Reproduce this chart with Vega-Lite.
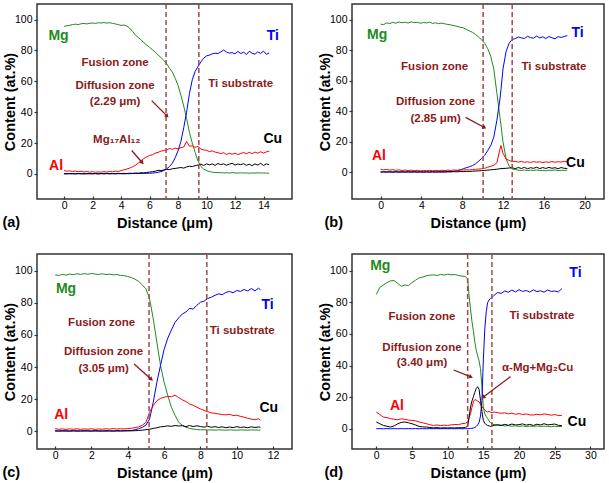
{
"$schema":"https://vega.github.io/schema/vega-lite/v6.json",
"padding":{"left":1,"top":2,"right":1,"bottom":1},
"config":{
 "font":"Liberation Sans",
 "view":{"stroke":"#333","strokeWidth":1.5},
 "axis":{"grid":false,"domain":false,"labelOverlap":false,"labelFont":"Liberation Sans","labelFontSize":10.5,"labelColor":"#000","titleFont":"Liberation Sans","titleFontSize":14.5,"titleFontWeight":"bold","titleColor":"#000","tickColor":"#333","tickWidth":1.2},
 "axisX":{"tickSize":-3,"labelPadding":4,"titlePadding":6},
 "axisY":{"tickSize":3,"labelPadding":2,"titlePadding":-3},
 "title":{"font":"Liberation Sans","fontSize":14.5,"fontWeight":"bold","color":"#000","orient":"bottom","anchor":"start","frame":"bounds","offset":0,"dy":-18}
},
"columns":2,
"spacing":{"row":55,"column":60},
"bounds":"flush",
"datasets":{
"a":[
{"x":0,"Mg":95.6,"Ti":0.1,"Al":2.2,"Cu":0.2},{"x":0.2,"Mg":96.0,"Ti":0.2,"Al":1.8,"Cu":0.1},{"x":0.4,"Mg":96.3,"Ti":0.1,"Al":2.0,"Cu":0.3},{"x":0.6,"Mg":96.8,"Ti":0.2,"Al":1.6,"Cu":0.2},{"x":0.8,"Mg":97.0,"Ti":0.1,"Al":1.9,"Cu":0.1},{"x":1.0,"Mg":96.8,"Ti":0.2,"Al":1.5,"Cu":0.3},{"x":1.2,"Mg":97.3,"Ti":0.1,"Al":1.8,"Cu":0.2},{"x":1.4,"Mg":97.5,"Ti":0.2,"Al":1.3,"Cu":0.1},{"x":1.6,"Mg":97.2,"Ti":0.1,"Al":1.6,"Cu":0.3},{"x":1.8,"Mg":97.6,"Ti":0.2,"Al":1.2,"Cu":0.2},{"x":2.0,"Mg":97.8,"Ti":0.1,"Al":1.5,"Cu":0.2},{"x":2.2,"Mg":97.5,"Ti":0.2,"Al":1.1,"Cu":0.3},{"x":2.4,"Mg":98.0,"Ti":0.1,"Al":1.4,"Cu":0.1},{"x":2.6,"Mg":97.8,"Ti":0.2,"Al":1.2,"Cu":0.3},{"x":2.8,"Mg":98.1,"Ti":0.1,"Al":1.5,"Cu":0.2},{"x":3.0,"Mg":97.7,"Ti":0.2,"Al":1.3,"Cu":0.4},{"x":3.2,"Mg":98.0,"Ti":0.1,"Al":1.6,"Cu":0.2},{"x":3.4,"Mg":97.6,"Ti":0.2,"Al":1.4,"Cu":0.3},{"x":3.6,"Mg":97.2,"Ti":0.1,"Al":1.8,"Cu":0.2},{"x":3.8,"Mg":96.8,"Ti":0.2,"Al":1.6,"Cu":0.4},{"x":4.0,"Mg":96.2,"Ti":0.2,"Al":2.2,"Cu":0.3},{"x":4.2,"Mg":96.5,"Ti":0.1,"Al":2.6,"Cu":0.4},{"x":4.4,"Mg":95.8,"Ti":0.2,"Al":3.2,"Cu":0.3},{"x":4.6,"Mg":94.5,"Ti":0.2,"Al":3.8,"Cu":0.5},{"x":4.8,"Mg":92.5,"Ti":0.3,"Al":4.6,"Cu":0.4},{"x":5.0,"Mg":90.0,"Ti":0.3,"Al":5.6,"Cu":0.6},{"x":5.2,"Mg":88.5,"Ti":0.3,"Al":7.0,"Cu":0.5},{"x":5.4,"Mg":87.0,"Ti":0.4,"Al":8.6,"Cu":0.8},{"x":5.6,"Mg":85.0,"Ti":0.4,"Al":10.0,"Cu":0.7},{"x":5.8,"Mg":83.5,"Ti":0.4,"Al":11.0,"Cu":1.0},{"x":6.0,"Mg":82.0,"Ti":0.5,"Al":12.0,"Cu":1.2},{"x":6.2,"Mg":80.5,"Ti":0.6,"Al":12.4,"Cu":1.5},{"x":6.4,"Mg":79.0,"Ti":0.8,"Al":13.5,"Cu":1.8},{"x":6.6,"Mg":77.0,"Ti":1.1,"Al":14.0,"Cu":2.4},{"x":6.8,"Mg":75.5,"Ti":1.5,"Al":14.8,"Cu":2.2},{"x":7.0,"Mg":73.5,"Ti":2.2,"Al":15.2,"Cu":2.6},{"x":7.2,"Mg":71.5,"Ti":3.3,"Al":15.6,"Cu":3.0},{"x":7.4,"Mg":68.5,"Ti":4.8,"Al":16.5,"Cu":2.8},{"x":7.6,"Mg":66.0,"Ti":7.0,"Al":16.0,"Cu":3.4},{"x":7.8,"Mg":62.0,"Ti":10.5,"Al":16.8,"Cu":3.6},{"x":8.0,"Mg":57.5,"Ti":15.0,"Al":16.2,"Cu":3.9},{"x":8.2,"Mg":51.0,"Ti":21.0,"Al":17.0,"Cu":4.2},{"x":8.4,"Mg":44.0,"Ti":30.0,"Al":17.5,"Cu":3.8},{"x":8.6,"Mg":36.0,"Ti":40.0,"Al":21.0,"Cu":4.6},{"x":8.8,"Mg":27.0,"Ti":52.0,"Al":18.0,"Cu":5.0},{"x":9.0,"Mg":20.0,"Ti":61.0,"Al":18.2,"Cu":4.8},{"x":9.2,"Mg":14.0,"Ti":66.5,"Al":17.3,"Cu":5.4},{"x":9.4,"Mg":8.5,"Ti":69.5,"Al":17.8,"Cu":5.8},{"x":9.6,"Mg":5.0,"Ti":72.5,"Al":16.2,"Cu":6.4},{"x":9.8,"Mg":3.2,"Ti":75.0,"Al":15.6,"Cu":5.5},{"x":10.0,"Mg":2.2,"Ti":76.5,"Al":15.3,"Cu":6.6},{"x":10.2,"Mg":1.6,"Ti":77.0,"Al":14.5,"Cu":5.9},{"x":10.4,"Mg":1.2,"Ti":77.8,"Al":15.0,"Cu":6.5},{"x":10.6,"Mg":1.0,"Ti":78.2,"Al":14.2,"Cu":5.6},{"x":10.8,"Mg":0.8,"Ti":78.0,"Al":13.8,"Cu":6.8},{"x":11.0,"Mg":0.9,"Ti":79.0,"Al":13.2,"Cu":6.0},{"x":11.2,"Mg":0.7,"Ti":80.3,"Al":13.8,"Cu":6.6},{"x":11.4,"Mg":0.8,"Ti":79.0,"Al":12.6,"Cu":5.7},{"x":11.6,"Mg":0.6,"Ti":78.3,"Al":13.4,"Cu":6.4},{"x":11.8,"Mg":0.9,"Ti":78.6,"Al":12.8,"Cu":6.9},{"x":12.0,"Mg":0.7,"Ti":77.8,"Al":13.5,"Cu":5.8},{"x":12.2,"Mg":0.6,"Ti":79.4,"Al":12.6,"Cu":6.5},{"x":12.4,"Mg":0.8,"Ti":78.0,"Al":13.3,"Cu":6.0},{"x":12.6,"Mg":0.6,"Ti":78.9,"Al":13.9,"Cu":6.7},{"x":12.8,"Mg":0.7,"Ti":77.4,"Al":13.1,"Cu":5.6},{"x":13.0,"Mg":0.5,"Ti":79.5,"Al":14.0,"Cu":6.3},{"x":13.2,"Mg":0.7,"Ti":78.2,"Al":13.2,"Cu":5.4},{"x":13.4,"Mg":0.6,"Ti":77.6,"Al":14.2,"Cu":6.5},{"x":13.6,"Mg":0.8,"Ti":79.1,"Al":13.5,"Cu":5.8},{"x":13.8,"Mg":0.6,"Ti":78.1,"Al":14.4,"Cu":6.9},{"x":14.0,"Mg":0.7,"Ti":79.6,"Al":13.6,"Cu":5.5},{"x":14.2,"Mg":0.5,"Ti":77.5,"Al":14.3,"Cu":6.6},{"x":14.4,"Mg":0.6,"Ti":78.4,"Al":14.8,"Cu":6.0}
],
"b":[
{"x":0,"Mg":97.0,"Ti":0.1,"Al":2.0,"Cu":0.2},{"x":0.3,"Mg":96.7,"Ti":0.2,"Al":1.6,"Cu":0.3},{"x":0.6,"Mg":97.8,"Ti":0.1,"Al":1.9,"Cu":0.2},{"x":0.9,"Mg":97.4,"Ti":0.2,"Al":1.4,"Cu":0.3},{"x":1.2,"Mg":98.2,"Ti":0.1,"Al":1.7,"Cu":0.2},{"x":1.5,"Mg":97.6,"Ti":0.2,"Al":1.3,"Cu":0.4},{"x":1.8,"Mg":98.4,"Ti":0.1,"Al":1.6,"Cu":0.2},{"x":2.1,"Mg":97.9,"Ti":0.2,"Al":1.2,"Cu":0.3},{"x":2.4,"Mg":98.3,"Ti":0.1,"Al":1.5,"Cu":0.2},{"x":2.7,"Mg":97.7,"Ti":0.2,"Al":1.1,"Cu":0.3},{"x":3.0,"Mg":98.5,"Ti":0.1,"Al":1.4,"Cu":0.2},{"x":3.3,"Mg":98.0,"Ti":0.2,"Al":1.0,"Cu":0.4},{"x":3.6,"Mg":98.2,"Ti":0.1,"Al":1.3,"Cu":0.2},{"x":3.9,"Mg":97.6,"Ti":0.2,"Al":0.9,"Cu":0.3},{"x":4.2,"Mg":98.1,"Ti":0.1,"Al":1.2,"Cu":0.2},{"x":4.5,"Mg":97.8,"Ti":0.2,"Al":1.0,"Cu":0.3},{"x":4.8,"Mg":98.3,"Ti":0.1,"Al":1.3,"Cu":0.2},{"x":5.1,"Mg":97.5,"Ti":0.2,"Al":0.9,"Cu":0.4},{"x":5.4,"Mg":97.9,"Ti":0.1,"Al":1.2,"Cu":0.2},{"x":5.7,"Mg":97.3,"Ti":0.2,"Al":1.0,"Cu":0.3},{"x":6.0,"Mg":97.7,"Ti":0.2,"Al":1.3,"Cu":0.3},{"x":6.3,"Mg":97.2,"Ti":0.3,"Al":1.1,"Cu":0.2},{"x":6.6,"Mg":96.8,"Ti":0.3,"Al":1.4,"Cu":0.4},{"x":6.9,"Mg":96.5,"Ti":0.4,"Al":1.2,"Cu":0.3},{"x":7.2,"Mg":96.0,"Ti":0.6,"Al":1.5,"Cu":0.4},{"x":7.5,"Mg":95.6,"Ti":1.0,"Al":1.3,"Cu":0.3},{"x":7.8,"Mg":95.0,"Ti":1.5,"Al":1.6,"Cu":0.5},{"x":8.1,"Mg":94.6,"Ti":2.3,"Al":1.4,"Cu":0.4},{"x":8.4,"Mg":93.6,"Ti":3.0,"Al":1.7,"Cu":0.6},{"x":8.7,"Mg":92.6,"Ti":3.6,"Al":1.5,"Cu":0.5},{"x":9.0,"Mg":91.7,"Ti":4.4,"Al":1.8,"Cu":0.7},{"x":9.3,"Mg":90.3,"Ti":5.5,"Al":1.9,"Cu":0.8},{"x":9.6,"Mg":88.6,"Ti":7.2,"Al":2.1,"Cu":0.9},{"x":9.9,"Mg":86.8,"Ti":9.0,"Al":2.3,"Cu":1.1},{"x":10.2,"Mg":84.5,"Ti":11.0,"Al":2.6,"Cu":1.2},{"x":10.5,"Mg":81.0,"Ti":14.2,"Al":3.3,"Cu":1.4},{"x":10.8,"Mg":76.0,"Ti":17.5,"Al":3.9,"Cu":1.6},{"x":11.1,"Mg":67.5,"Ti":23.0,"Al":4.6,"Cu":1.8},{"x":11.4,"Mg":52.0,"Ti":34.0,"Al":6.2,"Cu":2.0},{"x":11.7,"Mg":36.0,"Ti":48.0,"Al":15.0,"Cu":2.3},{"x":11.8,"Mg":31.0,"Ti":54.0,"Al":17.5,"Cu":2.4},{"x":12.0,"Mg":20.0,"Ti":67.7,"Al":12.5,"Cu":2.5},{"x":12.3,"Mg":9.0,"Ti":79.0,"Al":8.7,"Cu":2.6},{"x":12.6,"Mg":4.0,"Ti":84.5,"Al":7.8,"Cu":2.8},{"x":12.9,"Mg":2.2,"Ti":87.0,"Al":7.0,"Cu":3.0},{"x":13.2,"Mg":1.8,"Ti":87.5,"Al":7.2,"Cu":2.4},{"x":13.5,"Mg":1.4,"Ti":88.6,"Al":6.6,"Cu":3.1},{"x":13.8,"Mg":1.2,"Ti":88.0,"Al":7.1,"Cu":2.5},{"x":14.1,"Mg":1.5,"Ti":87.6,"Al":6.5,"Cu":3.2},{"x":14.4,"Mg":1.1,"Ti":89.0,"Al":6.9,"Cu":2.3},{"x":14.7,"Mg":1.4,"Ti":88.2,"Al":6.4,"Cu":3.0},{"x":15.0,"Mg":1.2,"Ti":87.8,"Al":7.0,"Cu":2.6},{"x":15.3,"Mg":1.5,"Ti":89.2,"Al":6.6,"Cu":3.3},{"x":15.6,"Mg":1.1,"Ti":88.0,"Al":6.9,"Cu":2.4},{"x":15.9,"Mg":1.3,"Ti":88.7,"Al":6.3,"Cu":3.1},{"x":16.2,"Mg":1.0,"Ti":87.6,"Al":6.8,"Cu":2.5},{"x":16.5,"Mg":1.4,"Ti":88.9,"Al":6.5,"Cu":3.2},{"x":16.8,"Mg":1.2,"Ti":88.1,"Al":7.0,"Cu":2.6},{"x":17.1,"Mg":1.5,"Ti":87.4,"Al":6.6,"Cu":3.0},{"x":17.4,"Mg":1.1,"Ti":88.8,"Al":6.9,"Cu":2.3},{"x":17.7,"Mg":1.3,"Ti":88.3,"Al":6.7,"Cu":3.1},{"x":18.0,"Mg":1.2,"Ti":88.9,"Al":7.2,"Cu":2.6},{"x":18.3,"Mg":1.4,"Ti":89.5,"Al":7.0,"Cu":2.5}
],
"c":[
{"x":0,"Mg":97.3,"Ti":0.1,"Al":1.6,"Cu":0.3},{"x":0.2,"Mg":97.0,"Ti":0.2,"Al":1.3,"Cu":0.2},{"x":0.4,"Mg":97.5,"Ti":0.1,"Al":1.5,"Cu":0.4},{"x":0.6,"Mg":97.2,"Ti":0.2,"Al":1.2,"Cu":0.3},{"x":0.8,"Mg":97.8,"Ti":0.1,"Al":1.5,"Cu":0.2},{"x":1.0,"Mg":97.5,"Ti":0.2,"Al":1.3,"Cu":0.4},{"x":1.2,"Mg":98.0,"Ti":0.1,"Al":1.6,"Cu":0.3},{"x":1.4,"Mg":97.6,"Ti":0.2,"Al":1.2,"Cu":0.2},{"x":1.6,"Mg":98.1,"Ti":0.1,"Al":1.5,"Cu":0.4},{"x":1.8,"Mg":97.7,"Ti":0.2,"Al":1.3,"Cu":0.3},{"x":2.0,"Mg":98.2,"Ti":0.1,"Al":1.6,"Cu":0.2},{"x":2.2,"Mg":97.8,"Ti":0.2,"Al":1.2,"Cu":0.4},{"x":2.4,"Mg":97.6,"Ti":0.1,"Al":1.5,"Cu":0.3},{"x":2.6,"Mg":98.0,"Ti":0.2,"Al":1.3,"Cu":0.2},{"x":2.8,"Mg":97.5,"Ti":0.1,"Al":1.6,"Cu":0.4},{"x":3.0,"Mg":97.8,"Ti":0.2,"Al":1.4,"Cu":0.3},{"x":3.2,"Mg":97.3,"Ti":0.1,"Al":1.7,"Cu":0.2},{"x":3.4,"Mg":97.5,"Ti":0.2,"Al":1.4,"Cu":0.4},{"x":3.6,"Mg":97.0,"Ti":0.2,"Al":1.6,"Cu":0.3},{"x":3.8,"Mg":96.8,"Ti":0.3,"Al":1.5,"Cu":0.3},{"x":4.0,"Mg":96.3,"Ti":0.3,"Al":1.7,"Cu":0.4},{"x":4.2,"Mg":95.6,"Ti":0.5,"Al":1.9,"Cu":0.3},{"x":4.4,"Mg":94.6,"Ti":1.0,"Al":2.3,"Cu":0.4},{"x":4.6,"Mg":93.2,"Ti":1.6,"Al":2.8,"Cu":0.5},{"x":4.8,"Mg":91.0,"Ti":2.5,"Al":3.8,"Cu":0.7},{"x":5.0,"Mg":88.6,"Ti":3.9,"Al":5.6,"Cu":1.0},{"x":5.2,"Mg":82.4,"Ti":7.7,"Al":11.8,"Cu":1.3},{"x":5.4,"Mg":70.0,"Ti":18.0,"Al":16.0,"Cu":1.8},{"x":5.6,"Mg":55.4,"Ti":30.5,"Al":19.0,"Cu":2.2},{"x":5.8,"Mg":41.0,"Ti":41.0,"Al":20.5,"Cu":2.8},{"x":6.0,"Mg":30.5,"Ti":51.0,"Al":21.2,"Cu":3.0},{"x":6.2,"Mg":22.2,"Ti":58.0,"Al":21.8,"Cu":3.4},{"x":6.4,"Mg":15.0,"Ti":63.0,"Al":21.5,"Cu":3.1},{"x":6.6,"Mg":10.0,"Ti":67.8,"Al":22.5,"Cu":3.6},{"x":6.8,"Mg":5.6,"Ti":70.5,"Al":21.0,"Cu":3.3},{"x":7.0,"Mg":3.8,"Ti":73.0,"Al":19.6,"Cu":3.5},{"x":7.2,"Mg":2.5,"Ti":74.2,"Al":18.5,"Cu":2.9},{"x":7.4,"Mg":1.8,"Ti":76.5,"Al":17.0,"Cu":3.6},{"x":7.6,"Mg":1.4,"Ti":76.0,"Al":16.2,"Cu":3.0},{"x":7.8,"Mg":1.1,"Ti":78.4,"Al":15.0,"Cu":3.4},{"x":8.0,"Mg":0.9,"Ti":80.3,"Al":13.9,"Cu":3.0},{"x":8.2,"Mg":1.0,"Ti":81.0,"Al":13.0,"Cu":2.6},{"x":8.4,"Mg":0.8,"Ti":82.6,"Al":12.2,"Cu":3.1},{"x":8.6,"Mg":0.9,"Ti":83.4,"Al":11.5,"Cu":2.5},{"x":8.8,"Mg":0.7,"Ti":84.6,"Al":11.2,"Cu":2.9},{"x":9.0,"Mg":0.9,"Ti":85.5,"Al":10.8,"Cu":2.4},{"x":9.2,"Mg":0.8,"Ti":85.0,"Al":10.5,"Cu":2.8},{"x":9.4,"Mg":0.7,"Ti":86.4,"Al":10.2,"Cu":2.2},{"x":9.6,"Mg":0.9,"Ti":87.0,"Al":10.6,"Cu":2.7},{"x":9.8,"Mg":0.8,"Ti":86.2,"Al":9.8,"Cu":2.3},{"x":10.0,"Mg":0.7,"Ti":87.6,"Al":10.0,"Cu":2.9},{"x":10.2,"Mg":0.9,"Ti":87.0,"Al":9.3,"Cu":2.4},{"x":10.4,"Mg":0.8,"Ti":88.2,"Al":8.8,"Cu":2.7},{"x":10.6,"Mg":0.7,"Ti":87.3,"Al":8.1,"Cu":2.2},{"x":10.8,"Mg":0.9,"Ti":88.8,"Al":7.6,"Cu":2.8},{"x":11.0,"Mg":0.8,"Ti":87.4,"Al":7.2,"Cu":2.4},{"x":11.2,"Mg":0.7,"Ti":89.0,"Al":7.8,"Cu":2.7},{"x":11.3,"Mg":0.8,"Ti":88.0,"Al":7.0,"Cu":2.5}
],
"d":[
{"x":0,"Mg":85.0,"Ti":0.0,"Al":10.6,"Cu":4.3},{"x":0.5,"Mg":89.5,"Ti":0.1,"Al":9.0,"Cu":3.2},{"x":1.0,"Mg":91.0,"Ti":0.0,"Al":7.4,"Cu":2.1},{"x":1.5,"Mg":92.5,"Ti":0.1,"Al":7.0,"Cu":1.6},{"x":2.0,"Mg":93.6,"Ti":0.0,"Al":6.4,"Cu":1.1},{"x":2.5,"Mg":93.8,"Ti":0.1,"Al":6.0,"Cu":1.8},{"x":3.0,"Mg":92.0,"Ti":0.0,"Al":5.7,"Cu":3.2},{"x":3.5,"Mg":90.2,"Ti":0.1,"Al":6.3,"Cu":4.0},{"x":4.0,"Mg":91.0,"Ti":0.0,"Al":6.0,"Cu":4.3},{"x":4.5,"Mg":90.6,"Ti":0.1,"Al":5.5,"Cu":3.8},{"x":5.0,"Mg":92.5,"Ti":0.0,"Al":5.3,"Cu":3.2},{"x":5.5,"Mg":94.0,"Ti":0.1,"Al":5.0,"Cu":2.4},{"x":6.0,"Mg":95.5,"Ti":0.0,"Al":4.3,"Cu":1.5},{"x":6.5,"Mg":96.0,"Ti":0.1,"Al":3.8,"Cu":1.2},{"x":7.0,"Mg":96.8,"Ti":0.0,"Al":3.2,"Cu":1.1},{"x":7.5,"Mg":97.2,"Ti":0.1,"Al":2.6,"Cu":0.8},{"x":8.0,"Mg":97.4,"Ti":0.0,"Al":2.1,"Cu":0.6},{"x":8.5,"Mg":97.0,"Ti":0.1,"Al":2.4,"Cu":0.7},{"x":9.0,"Mg":97.6,"Ti":0.0,"Al":2.0,"Cu":0.5},{"x":9.5,"Mg":97.3,"Ti":0.1,"Al":2.3,"Cu":0.6},{"x":10.0,"Mg":97.8,"Ti":0.0,"Al":2.1,"Cu":0.5},{"x":10.5,"Mg":97.4,"Ti":0.1,"Al":2.5,"Cu":0.6},{"x":11.0,"Mg":97.6,"Ti":0.0,"Al":2.7,"Cu":0.5},{"x":11.5,"Mg":97.0,"Ti":0.1,"Al":2.6,"Cu":0.7},{"x":12.0,"Mg":96.6,"Ti":0.0,"Al":3.2,"Cu":0.6},{"x":12.5,"Mg":96.4,"Ti":0.1,"Al":3.5,"Cu":0.9},{"x":12.8,"Mg":94.7,"Ti":0.1,"Al":4.3,"Cu":1.5},{"x":13.0,"Mg":84.0,"Ti":0.1,"Al":7.0,"Cu":7.0},{"x":13.2,"Mg":76.0,"Ti":0.2,"Al":9.6,"Cu":13.8},{"x":13.4,"Mg":68.0,"Ti":0.3,"Al":13.5,"Cu":17.5},{"x":13.6,"Mg":62.0,"Ti":0.5,"Al":17.0,"Cu":20.2},{"x":13.8,"Mg":55.0,"Ti":0.8,"Al":18.5,"Cu":23.0},{"x":14.0,"Mg":50.0,"Ti":1.5,"Al":18.1,"Cu":25.5},{"x":14.2,"Mg":46.0,"Ti":2.5,"Al":17.5,"Cu":26.6},{"x":14.4,"Mg":43.0,"Ti":4.0,"Al":17.0,"Cu":25.0},{"x":14.6,"Mg":38.0,"Ti":8.0,"Al":15.5,"Cu":18.0},{"x":14.8,"Mg":26.6,"Ti":18.0,"Al":14.0,"Cu":11.0},{"x":15.0,"Mg":13.8,"Ti":43.6,"Al":12.8,"Cu":5.3},{"x":15.2,"Mg":9.5,"Ti":63.0,"Al":11.8,"Cu":3.5},{"x":15.4,"Mg":7.8,"Ti":74.0,"Al":11.0,"Cu":2.6},{"x":15.6,"Mg":6.5,"Ti":79.8,"Al":10.6,"Cu":2.1},{"x":15.8,"Mg":5.0,"Ti":81.5,"Al":11.0,"Cu":1.8},{"x":16.0,"Mg":3.8,"Ti":82.5,"Al":10.5,"Cu":1.5},{"x":16.2,"Mg":3.2,"Ti":83.0,"Al":10.2,"Cu":1.8},{"x":16.5,"Mg":2.6,"Ti":84.5,"Al":10.6,"Cu":2.2},{"x":17.0,"Mg":2.1,"Ti":86.2,"Al":10.2,"Cu":2.6},{"x":17.5,"Mg":2.3,"Ti":85.7,"Al":9.8,"Cu":2.1},{"x":18.0,"Mg":1.8,"Ti":87.2,"Al":10.1,"Cu":2.8},{"x":18.5,"Mg":2.0,"Ti":86.4,"Al":9.4,"Cu":2.2},{"x":19.0,"Mg":1.6,"Ti":87.8,"Al":9.9,"Cu":3.0},{"x":19.5,"Mg":1.9,"Ti":86.6,"Al":9.2,"Cu":2.4},{"x":20.0,"Mg":1.5,"Ti":88.0,"Al":9.6,"Cu":2.6},{"x":20.5,"Mg":1.8,"Ti":86.9,"Al":9.0,"Cu":3.1},{"x":21.0,"Mg":1.4,"Ti":87.5,"Al":9.4,"Cu":2.3},{"x":21.5,"Mg":1.7,"Ti":86.5,"Al":8.8,"Cu":2.8},{"x":22.0,"Mg":1.5,"Ti":87.9,"Al":8.7,"Cu":2.1},{"x":22.5,"Mg":1.8,"Ti":86.8,"Al":9.2,"Cu":2.9},{"x":23.0,"Mg":1.4,"Ti":87.3,"Al":8.8,"Cu":2.4},{"x":23.5,"Mg":1.7,"Ti":86.4,"Al":9.4,"Cu":3.2},{"x":24.0,"Mg":1.5,"Ti":87.8,"Al":9.1,"Cu":2.5},{"x":24.5,"Mg":1.3,"Ti":86.9,"Al":8.6,"Cu":2.7},{"x":25.0,"Mg":1.6,"Ti":87.2,"Al":9.0,"Cu":3.0},{"x":25.5,"Mg":1.4,"Ti":86.6,"Al":8.4,"Cu":2.2},{"x":26.0,"Mg":1.5,"Ti":88.7,"Al":8.5,"Cu":2.0}
]
},
"concat":[
{"width":255,"height":195,"title":{"text":"(a)"},
 "layer":[
  {"data":{"name":"a"},"transform":[{"fold":["Mg","Ti","Al","Cu"],"as":["el","v"]}],
   "mark":{"type":"line","strokeWidth":1},
   "encoding":{
    "x":{"field":"x","type":"quantitative","scale":{"domain":[-1.9,16],"nice":false,"zero":false},"axis":{"values":[0,2,4,6,8,10,12,14],"tickCount":30,"format":"d","title":"Distance (μm)"}},
    "y":{"field":"v","type":"quantitative","scale":{"domain":[-16.2,110.1],"nice":false,"zero":false},"axis":{"values":[0,20,40,60,80,100],"tickCount":30,"format":"d","title":"Content (at.%)"}},
    "color":{"field":"el","type":"nominal","scale":{"domain":["Mg","Ti","Al","Cu"],"range":["#1E8B1E","#0000FF","#FF0000","#000000"]},"legend":null}}},
  {"data":{"values":[{"x":7.16},{"x":9.46}]},"mark":{"type":"rule","color":"#A04848","strokeDash":[5,3],"strokeWidth":1.5},"encoding":{"x":{"field":"x","type":"quantitative"}}},
  {"data":{"values":[{"el":"Mg","x":-0.39,"y":89.6},{"el":"Ti","x":14.65,"y":89.6},{"el":"Al","x":-0.56,"y":5.4},{"el":"Cu","x":14.65,"y":22.7}]},
   "mark":{"type":"text","fontSize":14,"fontWeight":"bold"},
   "encoding":{"x":{"field":"x","type":"quantitative"},"y":{"field":"y","type":"quantitative"},"text":{"field":"el"},"color":{"field":"el","type":"nominal","legend":null}}},
  {"data":{"values":[{"t":"Fusion zone","x":3.58,"y":71.7},{"t":"Diffusion zone","x":3.58,"y":56.8},{"t":"(2.29 μm)","x":3.58,"y":46.9},{"t":"Ti substrate","x":12.4,"y":58.3},{"t":"Mg₁₇Al₁₂","x":3.7,"y":22.3}]},
   "mark":{"type":"text","fontSize":11.5,"fontWeight":"bold","color":"#8B1A1A"},
   "encoding":{"x":{"field":"x","type":"quantitative"},"y":{"field":"y","type":"quantitative"},"text":{"field":"t"}}},
  {"data":{"values":[{"x":6.15,"y":47.5,"x2":7.2,"y2":37.8}]},"layer":[
   {"mark":{"type":"rule","color":"#8B1A1A","strokeWidth":1.3},"encoding":{"x":{"field":"x","type":"quantitative"},"y":{"field":"y","type":"quantitative"},"x2":{"field":"x2"},"y2":{"field":"y2"}}},
   {"mark":{"type":"point","shape":"triangle","filled":true,"opacity":1,"color":"#8B1A1A","size":22,"angle":135},"encoding":{"x":{"field":"x2","type":"quantitative"},"y":{"field":"y2","type":"quantitative"}}}]},
  {"data":{"values":[{"x":4.75,"y":15.2,"x2":5.46,"y2":7.6}]},"layer":[
   {"mark":{"type":"rule","color":"#8B1A1A","strokeWidth":1.3},"encoding":{"x":{"field":"x","type":"quantitative"},"y":{"field":"y","type":"quantitative"},"x2":{"field":"x2"},"y2":{"field":"y2"}}},
   {"mark":{"type":"point","shape":"triangle","filled":true,"opacity":1,"color":"#8B1A1A","size":22,"angle":139},"encoding":{"x":{"field":"x2","type":"quantitative"},"y":{"field":"y2","type":"quantitative"}}}]}
 ]},
{"width":252,"height":195,"title":{"text":"(b)","dx":7},
 "layer":[
  {"data":{"name":"b"},"transform":[{"fold":["Mg","Ti","Al","Cu"],"as":["el","v"]}],
   "mark":{"type":"line","strokeWidth":1},
   "encoding":{
    "x":{"field":"x","type":"quantitative","scale":{"domain":[-2.8,21.9],"nice":false,"zero":false},"axis":{"values":[0,4,8,12,16,20],"tickCount":30,"format":"d","title":"Distance (μm)"}},
    "y":{"field":"v","type":"quantitative","scale":{"domain":[-17.5,110.2],"nice":false,"zero":false},"axis":{"values":[0,20,40,60,80,100],"tickCount":30,"format":"d","title":"Content (at.%)"}},
    "color":{"field":"el","type":"nominal","scale":{"domain":["Mg","Ti","Al","Cu"],"range":["#1E8B1E","#0000FF","#FF0000","#000000"]},"legend":null}}},
  {"data":{"values":[{"x":10.05},{"x":12.9}]},"mark":{"type":"rule","color":"#A04848","strokeDash":[5,3],"strokeWidth":1.5},"encoding":{"x":{"field":"x","type":"quantitative"}}},
  {"data":{"values":[{"el":"Mg","x":-0.33,"y":90.2},{"el":"Ti","x":19.3,"y":91.3},{"el":"Al","x":-0.16,"y":10.9},{"el":"Cu","x":19.1,"y":5.9}]},
   "mark":{"type":"text","fontSize":14,"fontWeight":"bold"},
   "encoding":{"x":{"field":"x","type":"quantitative"},"y":{"field":"y","type":"quantitative"},"text":{"field":"el"},"color":{"field":"el","type":"nominal","legend":null}}},
  {"data":{"values":[{"t":"Fusion zone","x":5.3,"y":69.2},{"t":"Diffusion zone","x":5.4,"y":45.9},{"t":"(2.85 μm)","x":5.4,"y":34.9},{"t":"Ti substrate","x":17.0,"y":68.8}]},
   "mark":{"type":"text","fontSize":11.5,"fontWeight":"bold","color":"#8B1A1A"},
   "encoding":{"x":{"field":"x","type":"quantitative"},"y":{"field":"y","type":"quantitative"},"text":{"field":"t"}}},
  {"data":{"values":[{"x":8.33,"y":36,"x2":10.13,"y2":29.5}]},"layer":[
   {"mark":{"type":"rule","color":"#8B1A1A","strokeWidth":1.3},"encoding":{"x":{"field":"x","type":"quantitative"},"y":{"field":"y","type":"quantitative"},"x2":{"field":"x2"},"y2":{"field":"y2"}}},
   {"mark":{"type":"point","shape":"triangle","filled":true,"opacity":1,"color":"#8B1A1A","size":22,"angle":118},"encoding":{"x":{"field":"x2","type":"quantitative"},"y":{"field":"y2","type":"quantitative"}}}]}
 ]},
{"width":255,"height":195,"title":{"text":"(c)"},
 "layer":[
  {"data":{"name":"c"},"transform":[{"fold":["Mg","Ti","Al","Cu"],"as":["el","v"]}],
   "mark":{"type":"line","strokeWidth":1},
   "encoding":{
    "x":{"field":"x","type":"quantitative","scale":{"domain":[-1,13.04],"nice":false,"zero":false},"axis":{"values":[0,2,4,6,8,10,12],"tickCount":30,"format":"d","title":"Distance (μm)"}},
    "y":{"field":"v","type":"quantitative","scale":{"domain":[-11,110.3],"nice":false,"zero":false},"axis":{"values":[0,20,40,60,80,100],"tickCount":30,"format":"d","title":"Content (at.%)"}},
    "color":{"field":"el","type":"nominal","scale":{"domain":["Mg","Ti","Al","Cu"],"range":["#1E8B1E","#0000FF","#FF0000","#000000"]},"legend":null}}},
  {"data":{"values":[{"x":5.17},{"x":8.35}]},"mark":{"type":"rule","color":"#A04848","strokeDash":[5,3],"strokeWidth":1.5},"encoding":{"x":{"field":"x","type":"quantitative"}}},
  {"data":{"values":[{"el":"Mg","x":0.6,"y":88.6},{"el":"Ti","x":11.7,"y":78.6},{"el":"Al","x":0.33,"y":10.2},{"el":"Cu","x":11.76,"y":14.5}]},
   "mark":{"type":"text","fontSize":14,"fontWeight":"bold"},
   "encoding":{"x":{"field":"x","type":"quantitative"},"y":{"field":"y","type":"quantitative"},"text":{"field":"el"},"color":{"field":"el","type":"nominal","legend":null}}},
  {"data":{"values":[{"t":"Fusion zone","x":2.56,"y":67.4},{"t":"Diffusion zone","x":2.67,"y":49.2},{"t":"(3.05 μm)","x":2.67,"y":38.8},{"t":"Ti substrate","x":10.3,"y":62.7}]},
   "mark":{"type":"text","fontSize":11.5,"fontWeight":"bold","color":"#8B1A1A"},
   "encoding":{"x":{"field":"x","type":"quantitative"},"y":{"field":"y","type":"quantitative"},"text":{"field":"t"}}},
  {"data":{"values":[{"x":4.35,"y":41.9,"x2":5.27,"y2":32.6}]},"layer":[
   {"mark":{"type":"rule","color":"#8B1A1A","strokeWidth":1.3},"encoding":{"x":{"field":"x","type":"quantitative"},"y":{"field":"y","type":"quantitative"},"x2":{"field":"x2"},"y2":{"field":"y2"}}},
   {"mark":{"type":"point","shape":"triangle","filled":true,"opacity":1,"color":"#8B1A1A","size":22,"angle":131},"encoding":{"x":{"field":"x2","type":"quantitative"},"y":{"field":"y2","type":"quantitative"}}}]}
 ]},
{"width":252,"height":195,"title":{"text":"(d)","dx":7},
 "layer":[
  {"data":{"name":"d"},"transform":[{"fold":["Mg","Ti","Al","Cu"],"as":["el","v"]}],
   "mark":{"type":"line","strokeWidth":1},
   "encoding":{
    "x":{"field":"x","type":"quantitative","scale":{"domain":[-3.4,31.9],"nice":false,"zero":false},"axis":{"values":[0,5,10,15,20,25,30],"tickCount":30,"format":"d","title":"Distance (μm)"}},
    "y":{"field":"v","type":"quantitative","scale":{"domain":[-12.8,110.6],"nice":false,"zero":false},"axis":{"values":[0,20,40,60,80,100],"tickCount":30,"format":"d","title":"Content (at.%)"}},
    "color":{"field":"el","type":"nominal","scale":{"domain":["Mg","Ti","Al","Cu"],"range":["#1E8B1E","#0000FF","#FF0000","#000000"]},"legend":null}}},
  {"data":{"values":[{"x":12.8},{"x":16.2}]},"mark":{"type":"rule","color":"#A04848","strokeDash":[5,3],"strokeWidth":1.5},"encoding":{"x":{"field":"x","type":"quantitative"}}},
  {"data":{"values":[{"el":"Mg","x":0.56,"y":102.8},{"el":"Ti","x":27.9,"y":98.5},{"el":"Al","x":2.9,"y":14.5},{"el":"Cu","x":28.1,"y":4.3}]},
   "mark":{"type":"text","fontSize":14,"fontWeight":"bold"},
   "encoding":{"x":{"field":"x","type":"quantitative"},"y":{"field":"y","type":"quantitative"},"text":{"field":"el"},"color":{"field":"el","type":"nominal","legend":null}}},
  {"data":{"values":[{"t":"Fusion zone","x":6.4,"y":70.9},{"t":"Diffusion zone","x":6.4,"y":51.1},{"t":"(3.40 μm)","x":6.4,"y":41.5},{"t":"Ti substrate","x":23.2,"y":71.3},{"t":"α-Mg+Mg₂Cu","x":22.6,"y":38.7}]},
   "mark":{"type":"text","fontSize":11.5,"fontWeight":"bold","color":"#8B1A1A"},
   "encoding":{"x":{"field":"x","type":"quantitative"},"y":{"field":"y","type":"quantitative"},"text":{"field":"t"}}},
  {"data":{"values":[{"x":10.84,"y":37.2,"x2":13.18,"y2":33}]},"layer":[
   {"mark":{"type":"rule","color":"#8B1A1A","strokeWidth":1.3},"encoding":{"x":{"field":"x","type":"quantitative"},"y":{"field":"y","type":"quantitative"},"x2":{"field":"x2"},"y2":{"field":"y2"}}},
   {"mark":{"type":"point","shape":"triangle","filled":true,"opacity":1,"color":"#8B1A1A","size":22,"angle":112},"encoding":{"x":{"field":"x2","type":"quantitative"},"y":{"field":"y2","type":"quantitative"}}}]},
  {"data":{"values":[{"x":18.8,"y":33,"x2":15.05,"y2":20.2}]},"layer":[
   {"mark":{"type":"rule","color":"#8B1A1A","strokeWidth":1.3},"encoding":{"x":{"field":"x","type":"quantitative"},"y":{"field":"y","type":"quantitative"},"x2":{"field":"x2"},"y2":{"field":"y2"}}},
   {"mark":{"type":"point","shape":"triangle","filled":true,"opacity":1,"color":"#8B1A1A","size":22,"angle":233},"encoding":{"x":{"field":"x2","type":"quantitative"},"y":{"field":"y2","type":"quantitative"}}}]}
 ]}
]
}
